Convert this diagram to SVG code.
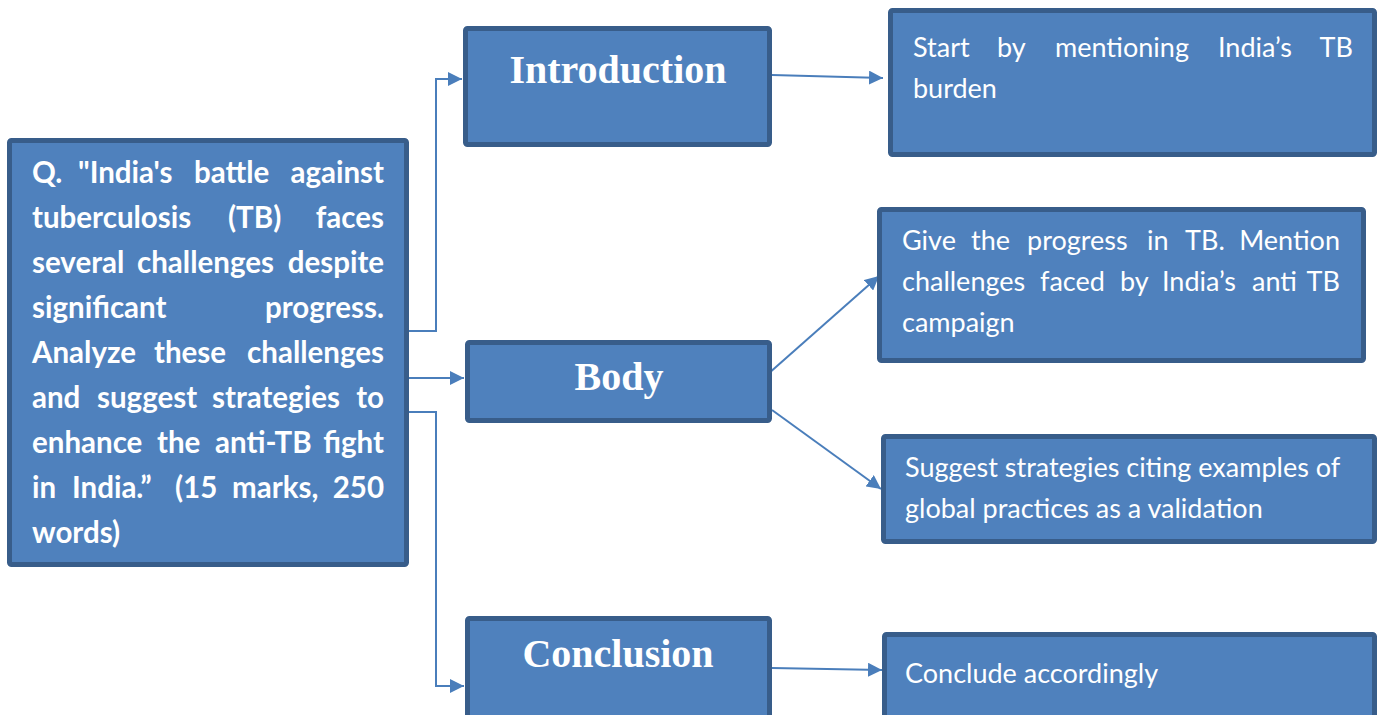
<svg xmlns="http://www.w3.org/2000/svg" width="1377" height="715" viewBox="0 0 1377 715">
<defs>
<style>
.box{fill:#4F81BD;stroke:#385D8A;stroke-width:5;}
.con{fill:none;stroke:#4A7EBB;stroke-width:2;}
.q{font-family:Lato,"Liberation Sans",sans-serif;font-weight:bold;font-size:29.5px;fill:#fff;}
.t{font-family:Lato,"Liberation Sans",sans-serif;font-size:27px;fill:#fff;}
.h{font-family:"Liberation Serif",serif;font-weight:bold;font-size:40px;fill:#fff;text-anchor:middle;}
</style>
<marker id="arr" viewBox="0 0 10 10" refX="10" refY="5" markerWidth="7" markerHeight="7" markerUnits="strokeWidth" orient="auto">
<path d="M0,0 L10,5 L0,10 z" fill="#4A7EBB"/>
</marker>
</defs>
<rect width="1377" height="715" fill="#fff"/>
<g id="connectors">
<polyline class="con" points="407,331 436,331 436,79 462,79" marker-end="url(#arr)"/>
<line class="con" x1="407" y1="378" x2="464" y2="378" marker-end="url(#arr)"/>
<polyline class="con" points="407,412 436,412 436,686 464,686" marker-end="url(#arr)"/>
<line class="con" x1="772" y1="75" x2="883" y2="78" marker-end="url(#arr)"/>
<line class="con" x1="768" y1="374" x2="879" y2="276" marker-end="url(#arr)"/>
<line class="con" x1="772" y1="410" x2="881" y2="489" marker-end="url(#arr)"/>
<line class="con" x1="772" y1="668" x2="882" y2="670" marker-end="url(#arr)"/>
</g>
<g id="question">
<rect class="box" x="9.5" y="140.5" width="397" height="424" rx="2"/>
<text class="q" y="183"><tspan x="32">Q.</tspan><tspan x="78">"India's</tspan><tspan x="194">battle</tspan><tspan x="384" text-anchor="end">against</tspan></text>
<text class="q" y="228"><tspan x="32">tuberculosis</tspan><tspan x="228">(TB)</tspan><tspan x="384" text-anchor="end">faces</tspan></text>
<text class="q" y="273"><tspan x="32">several</tspan><tspan x="137">challenges</tspan><tspan x="384" text-anchor="end">despite</tspan></text>
<text class="q" y="318"><tspan x="32">significant</tspan><tspan x="384" text-anchor="end">progress.</tspan></text>
<text class="q" y="363"><tspan x="32">Analyze</tspan><tspan x="154">these</tspan><tspan x="384" text-anchor="end">challenges</tspan></text>
<text class="q" y="408"><tspan x="32">and</tspan><tspan x="97">suggest</tspan><tspan x="212">strategies</tspan><tspan x="384" text-anchor="end">to</tspan></text>
<text class="q" y="453"><tspan x="32">enhance</tspan><tspan x="157">the</tspan><tspan x="215">anti-TB</tspan><tspan x="384" text-anchor="end">fight</tspan></text>
<text class="q" y="498"><tspan x="32">in</tspan><tspan x="72">India.”</tspan><tspan x="175">(15</tspan><tspan x="232">marks,</tspan><tspan x="384" text-anchor="end">250</tspan></text>
<text class="q" x="32" y="543">words)</text>
</g>
<g id="introduction">
<rect class="box" x="465.5" y="28.5" width="304" height="116" rx="2"/>
<text class="h" x="618" y="83">Introduction</text>
</g>
<g id="body">
<rect class="box" x="467.5" y="342.5" width="302" height="78" rx="2"/>
<text class="h" x="619" y="390">Body</text>
</g>
<g id="conclusion">
<rect class="box" x="467.5" y="618.5" width="302" height="110" rx="2"/>
<text class="h" x="618" y="667">Conclusion</text>
</g>
<g id="intro-detail">
<rect class="box" x="890.5" y="10.5" width="484" height="144" rx="2"/>
<text class="t" y="57"><tspan x="913">Start</tspan><tspan x="997">by</tspan><tspan x="1055">mentioning</tspan><tspan x="1218">India’s</tspan><tspan x="1353" text-anchor="end">TB</tspan></text>
<text class="t" x="913" y="98">burden</text>
</g>
<g id="body-detail-1">
<rect class="box" x="879.5" y="209.5" width="484" height="151" rx="2"/>
<text class="t" y="250"><tspan x="902">Give</tspan><tspan x="971">the</tspan><tspan x="1027">progress</tspan><tspan x="1147">in</tspan><tspan x="1185">TB.</tspan><tspan x="1340" text-anchor="end">Mention</tspan></text>
<text class="t" y="291"><tspan x="902">challenges</tspan><tspan x="1040">faced</tspan><tspan x="1120">by</tspan><tspan x="1162">India’s</tspan><tspan x="1252">anti</tspan><tspan x="1340" text-anchor="end">TB</tspan></text>
<text class="t" x="902" y="332">campaign</text>
</g>
<g id="body-detail-2">
<rect class="box" x="883.5" y="436.5" width="491" height="105" rx="2"/>
<text class="t" x="905" y="477">Suggest strategies citing examples of</text>
<text class="t" x="905" y="518">global practices as a validation</text>
</g>
<g id="conclusion-detail">
<rect class="box" x="884.5" y="634.5" width="490" height="100" rx="2"/>
<text class="t" x="905" y="683">Conclude accordingly</text>
</g>
</svg>
